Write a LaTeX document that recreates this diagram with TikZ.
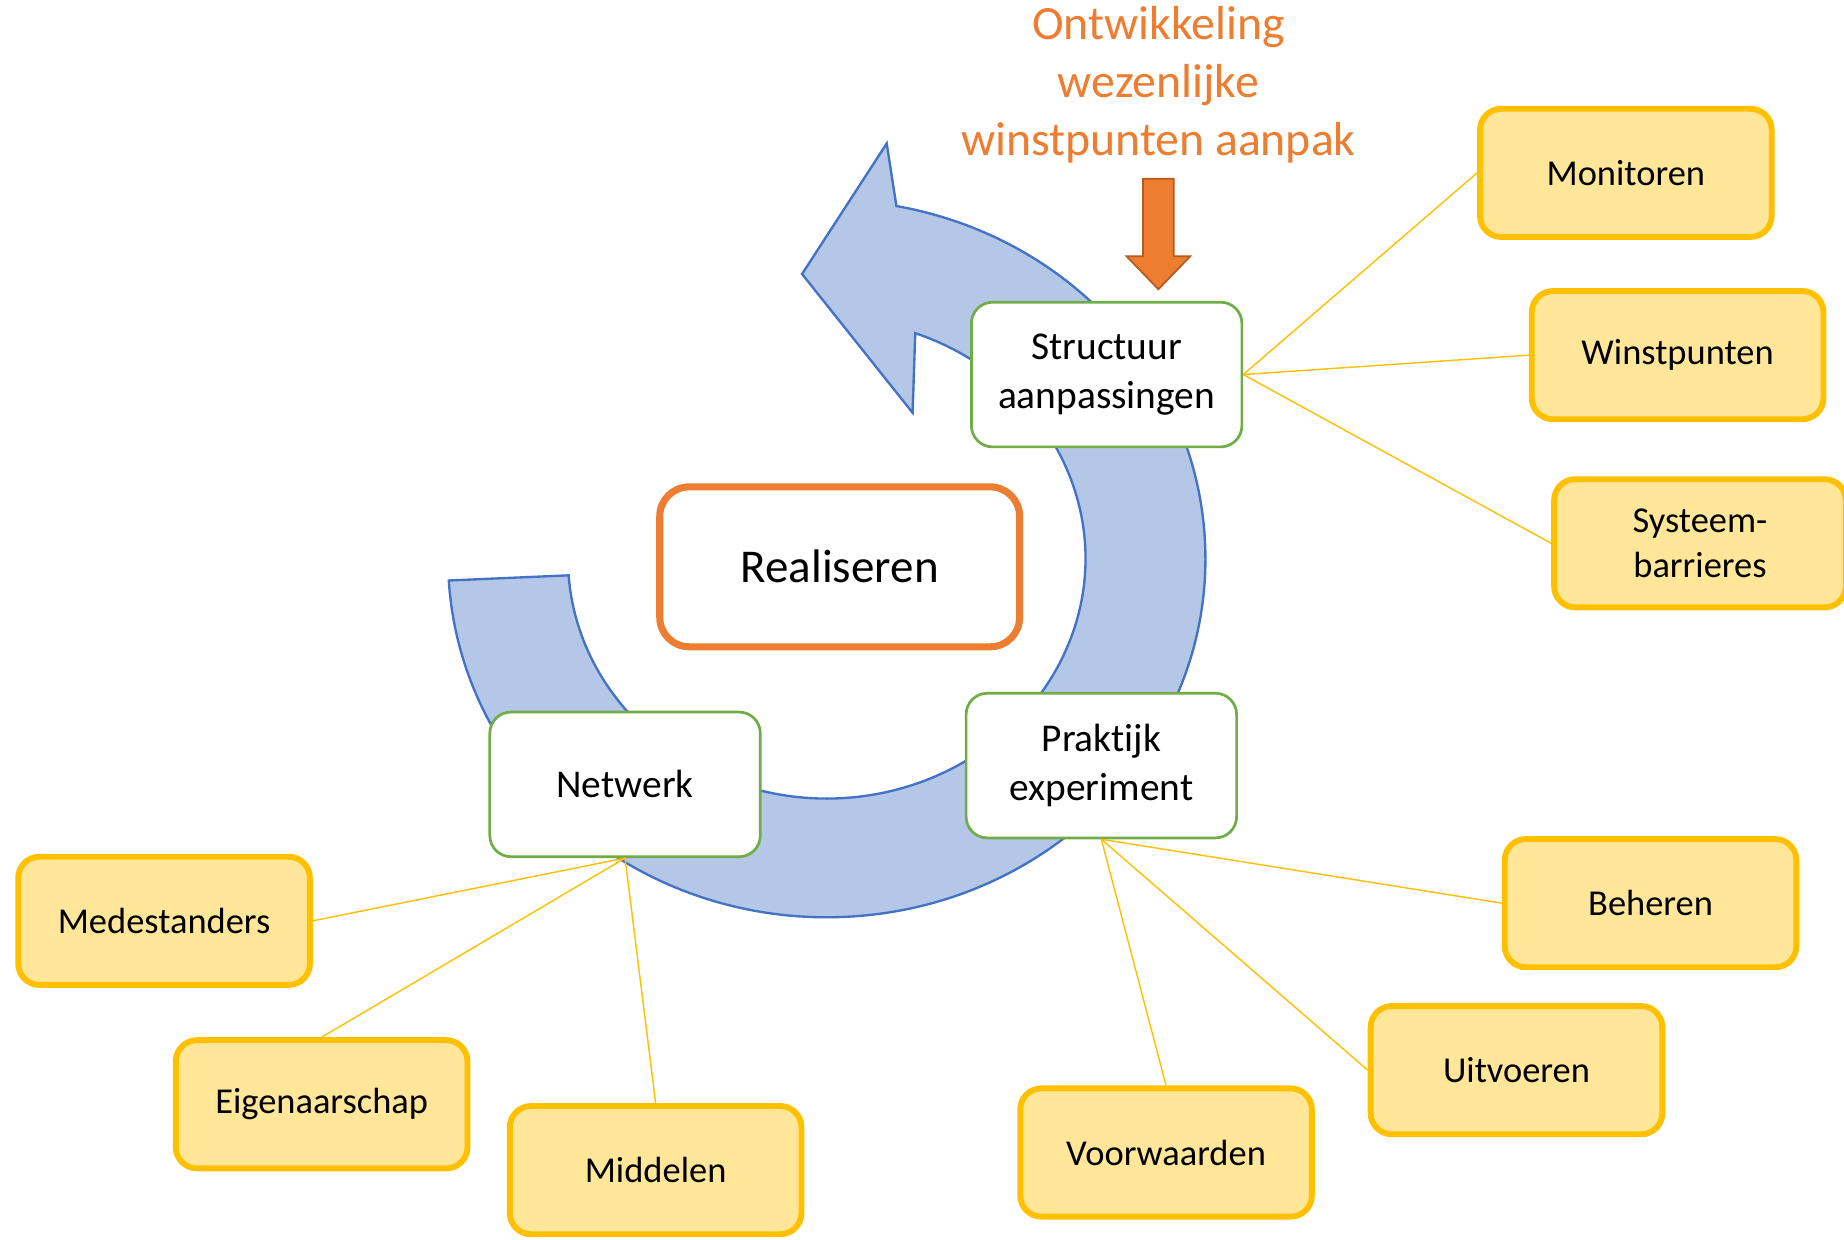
\documentclass[tikz,border=0pt]{standalone}
\usepackage{fontspec}
\setmainfont{Carlito}[Ligatures=NoCommon]
\usetikzlibrary{calc}
\definecolor{yfill}{HTML}{FFE699}
\definecolor{yline}{HTML}{FFC000}
\definecolor{ggreen}{HTML}{70AD47}
\definecolor{oorange}{HTML}{ED7D31}
\definecolor{odark}{HTML}{B85A1E}
\definecolor{bfill}{HTML}{B4C7E7}
\definecolor{bline}{HTML}{4472C4}
\begin{document}
\begin{tikzpicture}[x=1pt,y=1pt,
  ybox/.style={draw=yline, fill=yfill, line width=5pt, rounded corners=18pt,
    minimum width=248pt, minimum height=109pt, inner sep=0pt, align=center,
    font=\fontsize{31}{38}\selectfont},
  gbox/.style={draw=ggreen, fill=white, line width=2.3pt, rounded corners=18pt,
    minimum width=230pt, minimum height=123pt, inner sep=0pt, align=center,
    font=\fontsize{33.5}{41}\selectfont},
  link/.style={draw=yline, line width=1.2pt}]
\useasboundingbox (0,0) rectangle (1568,1054);
\fill[white] (0,0) rectangle (1568,1054);

% big circular arrow
\coordinate (C) at (703,579);
\filldraw[fill=bfill, draw=bline, line width=2pt, line join=miter]
  ($(C)+(183.5:322 and 305)$)
  arc[start angle=183.5, end angle=439.4, x radius=322, y radius=305]
  -- (754,932) -- (682,821) -- (776,703)
  -- ($(C)+(70:220 and 204)$)
  arc[start angle=70, end angle=-176, x radius=220, y radius=204]
  -- cycle;

% title and orange arrow
\node[text=oorange, align=center, font=\fontsize{40.6}{49.5}\selectfont]
  (title) at (985,982) {Ontwikkeling\\wezenlijke\\winstpunten aanpak};
\filldraw[fill=oorange, draw=odark, line width=1.5pt]
  (972,902) -- (998,902) -- (998,836) -- (1012,836) -- (985,808)
  -- (958,836) -- (972,836) -- cycle;

% central nodes
\node[draw=oorange, fill=white, line width=6pt, rounded corners=25pt,
  minimum width=306pt, minimum height=136pt, inner sep=0pt,
  font=\fontsize{40}{48}\selectfont] (real) at (714,572) {Realiseren};

\node[gbox] (struct) at (941,735.5) {Structuur\\aanpassingen};
\node[gbox] (prak) at (936.5,403) {Praktijk\\experiment};
\node[gbox] (net) at (531.5,387) {Netwerk};

% yellow nodes
\node[ybox] (mon) at (1382.5,907) {Monitoren};
\node[ybox] (win) at (1426.5,752) {Winstpunten};
\node[ybox] (sys) at (1445.5,592) {Systeem-\\barrieres};
\node[ybox] (beh) at (1403.5,286) {Beheren};
\node[ybox] (uit) at (1289.5,144) {Uitvoeren};
\node[ybox] (voor) at (991.5,74) {Voorwaarden};
\node[ybox] (mid) at (557.5,59) {Middelen};
\node[ybox] (eig) at (273.5,115) {Eigenaarschap};
\node[ybox] (med) at (139.5,271) {Medestanders};

% connectors
\draw[link] (struct.east) -- (mon.west);
\draw[link] (struct.east) -- (win.west);
\draw[link] (struct.east) -- (sys.west);
\draw[link] (prak.south) -- (beh.west);
\draw[link] (prak.south) -- (uit.west);
\draw[link] (prak.south) -- (voor.north);
\draw[link] (net.south) -- (med.east);
\draw[link] (net.south) -- (eig.north);
\draw[link] (net.south) -- (mid.north);
\end{tikzpicture}
\end{document}
